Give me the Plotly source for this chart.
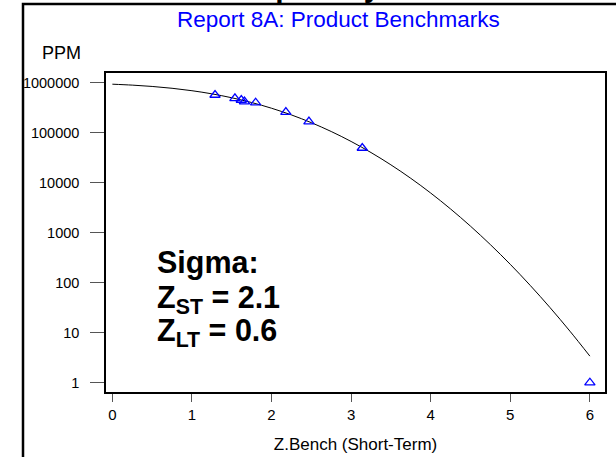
import plotly.graph_objects as go

# ---- data ----
curve_z = [0.0, 0.25, 0.5, 0.75, 1.0, 1.25, 1.5, 1.75, 2.0, 2.25, 2.5, 2.75, 3.0,
           3.25, 3.5, 3.75, 4.0, 4.25, 4.5, 4.75, 5.0, 5.25, 5.5, 5.75, 6.0]
curve_ppm = [933193, 894350, 841345, 773373, 691462, 598706, 500000, 401294, 308538,
             226627, 158655, 105650, 66807, 40059, 22750, 12224, 6210, 2980, 1350,
             577, 233, 88.4, 31.7, 10.7, 3.4]

bench_z = [1.29, 1.54, 1.62, 1.66, 1.80, 2.18, 2.47, 3.14, 6.0]
bench_ppm = [568000, 487000, 451000, 417000, 398000, 259000, 166000, 49400, 1]

x_ticks = [0, 1, 2, 3, 4, 5, 6]
y_ticks = [1, 10, 100, 1000, 10000, 100000, 1000000]
y_ticktext = ["1", "10", "100", "1000", "10000", "100000", "1000000"]

title_text = "Report 8A: Product Benchmarks"
x_title = "Z.Bench (Short-Term)"
y_title = "PPM"
sigma_lines = ["Sigma:", "Z<sub>ST</sub> = 2.1", "Z<sub>LT</sub> = 0.6"]

# ---- layout geometry (page pixels) ----
W, H = 616, 457
PL, PR, PT, PB = 106, 605, 73, 392          # plot area
L, R, T, B = PL, W - PR, PT, H - PB
PW, PH = PR - PL, PB - PT


def px(x):
    return (x - PL) / PW


def py(y):
    return (PB - y) / PH


FONT = "Liberation Sans, Arial, sans-serif"

fig = go.Figure()
fig.add_trace(go.Scatter(x=curve_z, y=curve_ppm, mode="lines",
                         line=dict(color="black", width=1, shape="spline"),
                         showlegend=False, hoverinfo="skip"))
fig.add_trace(go.Scatter(x=bench_z, y=bench_ppm, mode="markers",
                         marker=dict(symbol="triangle-up-open", size=9,
                                     color="#0000ff", line=dict(width=1.3, color="#0000ff")),
                         showlegend=False))

annotations = [
    dict(text=title_text, x=px(338), y=py(20), xref="paper", yref="paper",
         xanchor="center", yanchor="middle", showarrow=False,
         font=dict(family=FONT, size=22.5, color="#0000ff")),
    dict(text=y_title, x=px(61), y=py(53), xref="paper", yref="paper",
         xanchor="center", yanchor="middle", showarrow=False,
         font=dict(family=FONT, size=18, color="black")),
    dict(text="<b>Capability</b>", x=px(235), y=py(-13), xref="paper", yref="paper",
         xanchor="left", yanchor="middle", showarrow=False,
         font=dict(family=FONT, size=30, color="black")),
]
for txt, yc in zip(sigma_lines, [262, 299, 332]):
    annotations.append(dict(text="<b>" + txt + "</b>", x=px(155), y=py(yc),
                            xref="paper", yref="paper", xanchor="left", yanchor="middle",
                            showarrow=False, font=dict(family=FONT, size=30.5, color="black")))

fig.update_layout(
    width=W, height=H,
    margin=dict(l=L, r=R, t=T, b=B, pad=0, autoexpand=False),
    paper_bgcolor="white", plot_bgcolor="white",
    font=dict(family=FONT, color="black"),
    annotations=annotations,
    shapes=[dict(type="rect", xref="paper", yref="paper",
                 x0=px(23), x1=px(640), y0=py(480), y1=py(4),
                 line=dict(color="black", width=2.5), layer="above")],
)
fig.update_xaxes(range=[-0.08, 6.19], tickvals=x_ticks, ticks="outside", ticklen=8,
                 tickcolor="#555555", tickwidth=1.2, showline=True, mirror=True,
                 linecolor="black", linewidth=1.5, showgrid=False, zeroline=False,
                 automargin=False,
                 tickfont=dict(size=15, family=FONT, color="black"),
                 title=dict(text=x_title, font=dict(size=17, family=FONT), standoff=16))
fig.update_yaxes(type="log", range=[-0.186, 6.194], tickvals=y_ticks, ticktext=y_ticktext,
                 ticks="outside", ticklen=14, tickcolor="#555555", tickwidth=1.2,
                 showline=True, mirror=True, linecolor="black", linewidth=1.5,
                 showgrid=False, zeroline=False, ticklabelstandoff=8, automargin=False,
                 tickfont=dict(size=14.5, family=FONT, color="black"))

fig.write_html("out.html", config={"displayModeBar": False},
               post_script="document.body.style.margin='0px';")
